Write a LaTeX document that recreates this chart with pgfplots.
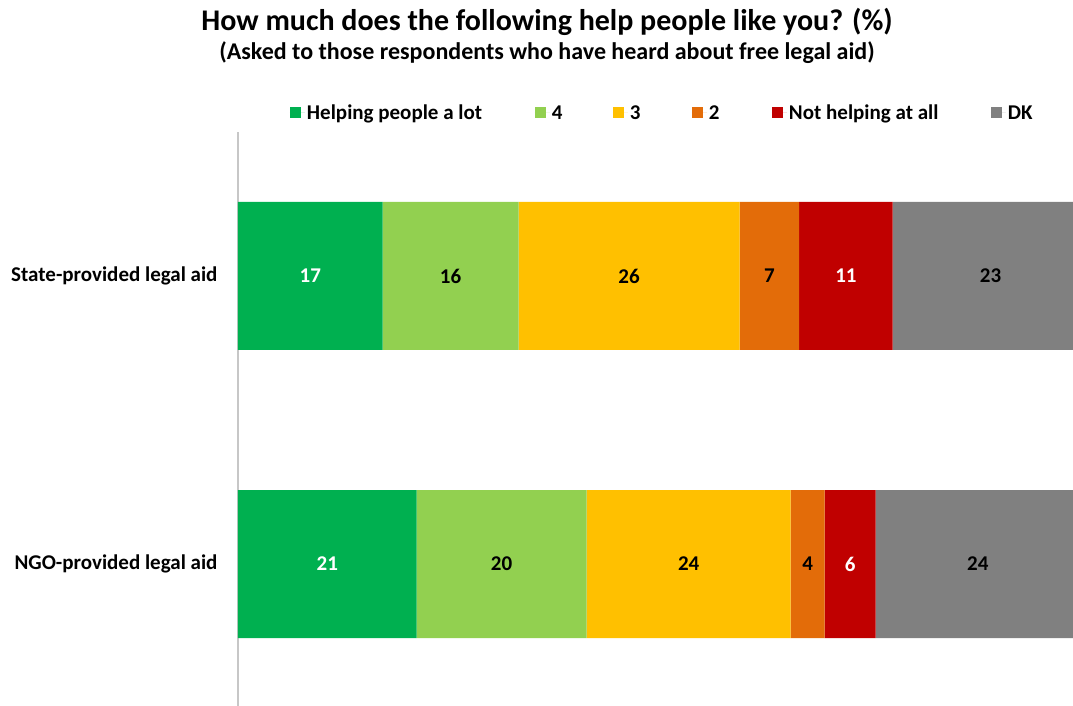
\documentclass[border=0pt]{standalone}
\usepackage{pgfplots}
\pgfplotsset{compat=1.18}
\usepackage{fontspec}
\setmainfont{Carlito}
\definecolor{cA}{HTML}{00B050}
\definecolor{cB}{HTML}{92D050}
\definecolor{cC}{HTML}{FFC000}
\definecolor{cD}{HTML}{E36C09}
\definecolor{cE}{HTML}{C00000}
\definecolor{cF}{HTML}{808080}
\begin{document}
\begin{tikzpicture}
\useasboundingbox (-238pt,0pt) rectangle (835pt,706pt);
\begin{axis}[
  anchor=south west, at={(0pt,0pt)},
  scale only axis,
  width=850.3pt, height=574pt,
  xbar stacked,
  bar width=148pt,
  xmin=0, xmax=100,
  ymin=-0.493, ymax=1.5,
  hide x axis,
  axis y line=left,
  y axis line style={draw=black!22, line width=1.2pt, -},
  ytick={0,1},
  yticklabels={NGO-provided legal aid, State-provided legal aid},
  major tick length=0pt,
  yticklabel style={font=\fontsize{21}{25}\selectfont\bfseries, xshift=-17pt},
  /pgf/number format/assume math mode=true,
  nodes near coords,
  every node near coord/.append style={font=\fontsize{21}{25}\selectfont\bfseries, anchor=center, text=black},
  legend columns=6,
  legend style={at={(52pt,593pt)}, anchor=west, draw=none, inner sep=0pt, outer sep=0pt,
    font=\fontsize{21}{25}\selectfont\bfseries, column sep=0pt},
  legend cell align=left,
  legend image code/.code={\fill[#1] (0pt,-5.5pt) rectangle (11pt,5.5pt); \path (0pt,0pt) -- (15pt,0pt);},
]
\addplot[fill=cA, draw=none, every node near coord/.append style={text=white}] coordinates {(21,0) (17,1)};
\addplot[fill=cB, draw=none] coordinates {(20,0) (16,1)};
\addplot[fill=cC, draw=none] coordinates {(24,0) (26,1)};
\addplot[fill=cD, draw=none] coordinates {(4,0) (7,1)};
\addplot[fill=cE, draw=none, every node near coord/.append style={text=white}] coordinates {(6,0) (11,1)};
\addplot[fill=cF, draw=none] coordinates {(24,0) (23,1)};
\addlegendentry{\makebox[226pt][l]{Helping people a lot}}
\addlegendentry{\makebox[59pt][l]{4}}
\addlegendentry{\makebox[60pt][l]{3}}
\addlegendentry{\makebox[61pt][l]{2}}
\addlegendentry{\makebox[200pt][l]{Not helping at all}}
\addlegendentry{DK}
\end{axis}
\node[font=\fontsize{30}{36}\selectfont\bfseries] at (309pt,684pt) {How much does the following help people like you? (\%)};
\node[font=\fontsize{24}{29}\selectfont\bfseries] at (309pt,653pt) {(Asked to those respondents who have heard about free legal aid)};
\end{tikzpicture}
\end{document}
